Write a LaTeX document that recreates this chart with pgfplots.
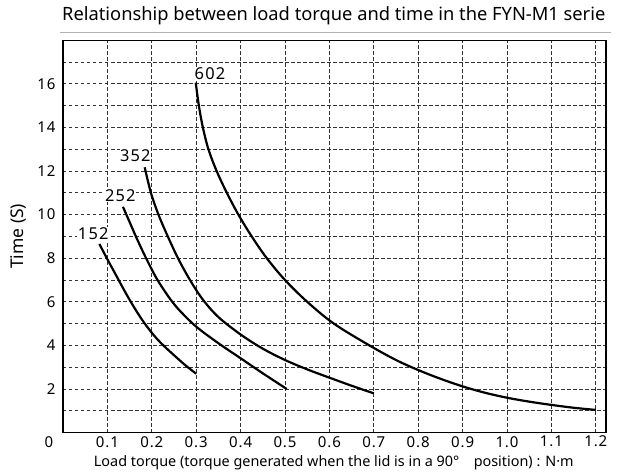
\documentclass[border=0pt]{standalone}
\usepackage{pgfplots}
\pgfplotsset{compat=1.18}
\usepackage{fontspec}
\setmainfont{Noto Sans}
\newfontfamily\spaced{Noto Sans}[LetterSpace=6]
\newfontfamily\wide{Noto Sans}[LetterSpace=7]
\begin{document}
\begin{tikzpicture}[x=1pt,y=1pt]
\path[use as bounding box] (0,0) rectangle (621,473);
\node[anchor=base west, inner sep=0pt, font=\fontsize{18.3}{20}\selectfont] at (62,452) {Relationship between load torque and time in the FYN-M1 serie};
\draw[black!30, line width=1pt] (60,440) -- (611,440);
\begin{axis}[
  at={(63pt,40.4pt)}, anchor=south west,
  scale only axis, width=543pt, height=392.4pt,
  xmin=0, xmax=1.223, ymin=0, ymax=18,
  xtick={0.1,0.2,0.3,0.4,0.5,0.6,0.7,0.8,0.9,1.0,1.1,1.2},
  xticklabels={0.1,0.2,0.3,0.4,0.5,0.6,0.7,0.8,0.9,1.0,1.1,1.2},
  ytick={2,4,6,8,10,12,14,16},
  yticklabels={2,4,6,8,10,12,14,16},
  minor ytick={1,3,5,7,9,11,13,15,17},
  extra x ticks={0}, extra x tick labels={0},
  extra x tick style={grid=none, xticklabel style={xshift=-14pt}},
  grid=both,
  major grid style={black!80, line width=0.9pt, dash pattern=on 3.5pt off 2.5pt},
  minor grid style={black!80, line width=0.9pt, dash pattern=on 3.5pt off 2.5pt},
  major tick length=0pt, minor tick length=0pt,
  axis line style={black, line width=1.3pt},
  /pgf/number format/assume math mode=true,
  tick label style={font=\spaced\fontsize{15}{17}\selectfont},
  yticklabel style={xshift=-4pt},
  xlabel={Load torque (torque generated when the lid is in a 90°\quad position) : N·m},
  ylabel={Time (S)},
  every axis x label/.style={at={(axis description cs:0.4987,0)}, anchor=base, yshift=-34.1pt, font=\fontsize{14.4}{16}\selectfont},
  every axis y label/.style={at={(axis description cs:-0.0829,0.5)}, rotate=90, anchor=center, font=\fontsize{17.5}{19}\selectfont},
]
\addplot[black, line width=2.2pt, smooth, tension=0.55] coordinates {(0.082,8.65) (0.10,7.95) (0.12,7.2) (0.14,6.45) (0.16,5.75) (0.18,5.12) (0.20,4.58) (0.22,4.12) (0.25,3.55) (0.275,3.1) (0.30,2.70)};
\addplot[black, line width=2.2pt, smooth, tension=0.55] coordinates {(0.135,10.36) (0.15,9.66) (0.165,8.96) (0.18,8.3) (0.195,7.68) (0.21,7.1) (0.227,6.55) (0.245,6.03) (0.265,5.55) (0.30,4.86) (0.35,4.1) (0.40,3.41) (0.45,2.72) (0.504,2.0)};
\addplot[black, line width=2.2pt, smooth, tension=0.55] coordinates {(0.184,12.17) (0.198,11.0) (0.215,10.0) (0.236,9.0) (0.259,8.0) (0.286,7.0) (0.315,6.1) (0.35,5.3) (0.40,4.5) (0.45,3.85) (0.50,3.33) (0.55,2.9) (0.60,2.52) (0.65,2.15) (0.70,1.80)};
\addplot[black, line width=2.2pt, smooth, tension=0.55] coordinates {(0.299,16.05) (0.306,15) (0.315,14) (0.3275,13) (0.346,12) (0.369,11) (0.395,10) (0.425,9) (0.459,8) (0.50,7) (0.55,6) (0.61,5) (0.69,4) (0.75,3.33) (0.80,2.87) (0.85,2.47) (0.90,2.12) (0.95,1.83) (1.0,1.6) (1.05,1.42) (1.1,1.27) (1.15,1.14) (1.2,1.04)};
\node[font=\wide\fontsize{16.4}{18}\selectfont, fill=white, inner sep=0.5pt] at (axis cs:0.068,9.11) {152};
\node[font=\wide\fontsize{16.4}{18}\selectfont, fill=white, inner sep=0.5pt] at (axis cs:0.129,10.86) {252};
\node[font=\wide\fontsize{16.4}{18}\selectfont, fill=white, inner sep=0.5pt] at (axis cs:0.163,12.69) {352};
\node[font=\wide\fontsize{16.4}{18}\selectfont, fill=white, inner sep=0.5pt] at (axis cs:0.331,16.45) {602};
\end{axis}
\end{tikzpicture}
\end{document}
